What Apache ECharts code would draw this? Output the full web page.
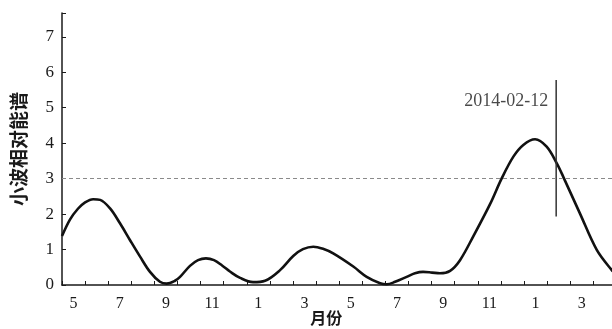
<!DOCTYPE html>
<html>
<head>
<meta charset="utf-8">
<script src="https://cdn.jsdelivr.net/npm/echarts@6/dist/echarts.min.js"></script>
<style>
  html, body { margin: 0; padding: 0; background: #fff; }
  #chart { width: 612px; height: 329px; }
</style>
</head>
<body>
<div id="chart"></div>
<script>
// Month labels along the time axis (May 2012 – Apr 2014), one band per month
const monthTicks = [5, 6, 7, 8, 9, 10, 11, 12, 1, 2, 3, 4, 5, 6, 7, 8, 9, 10, 11, 12, 1, 2, 3, 4];
const startYear = 2012;
const startMonth = 5;

// Relative wavelet energy spectrum: time in months since start of May 2012
const spectrumT = [0.0, 0.35, 0.69, 1.00, 1.35, 1.65, 2.08, 2.51, 2.94, 3.38, 3.81, 4.24, 4.53, 4.89, 5.11, 5.54, 5.89, 6.23, 6.58, 6.93, 7.27, 7.71, 8.27, 8.79, 9.44, 10.01, 10.43, 10.88, 11.30, 11.74, 12.61, 13.19, 13.77, 14.06, 14.42, 14.92, 15.28, 15.63, 16.02, 16.36, 16.80, 17.23, 17.81, 18.53, 19.03, 19.54, 19.97, 20.48, 20.98, 21.42, 21.70, 22.42, 23.15, 23.80, 24.0];
const spectrumV = [1.38, 1.85, 2.15, 2.33, 2.42, 2.40, 2.16, 1.74, 1.27, 0.80, 0.37, 0.09, 0.04, 0.12, 0.23, 0.54, 0.70, 0.75, 0.70, 0.55, 0.38, 0.20, 0.08, 0.12, 0.42, 0.82, 1.01, 1.08, 1.02, 0.89, 0.52, 0.23, 0.05, 0.02, 0.09, 0.23, 0.33, 0.37, 0.35, 0.33, 0.40, 0.70, 1.38, 2.28, 3.00, 3.62, 3.95, 4.11, 3.90, 3.43, 3.05, 2.02, 0.99, 0.42, 0.30];

// Significance threshold and the marked event
const thresholdValue = 3;
const eventDate = '2014-02-12';
const eventLineRange = [1.93, 5.78];
const eventLabelValue = 5.17;

function toMonthIndex(dateStr) {
  const [y, m, d] = dateStr.split('-').map(Number);
  const daysInMonth = new Date(y, m, 0).getDate();
  return (y - startYear) * 12 + (m - startMonth) + (d - 1) / daysInMonth;
}

const eventT = toMonthIndex(eventDate);
const spectrumData = spectrumT.map((t, i) => [t, spectrumV[i]]);

const serif = 'Liberation Serif';
const cjk = 'Noto Sans CJK SC';
const ink = '#1a1a1a';

const chart = echarts.init(document.getElementById('chart'), null, { renderer: 'canvas' });
chart.setOption({
  backgroundColor: '#ffffff',
  animation: false,
  grid: { left: 62, top: 13, width: 554.4, bottom: 44, containLabel: false, outerBoundsMode: 'none' },
  xAxis: [
    {
      type: 'category',
      data: monthTicks.map(String),
      boundaryGap: true,
      name: '月份',
      nameLocation: 'middle',
      nameGap: 25,
      nameMoveOverlap: false,
      nameTextStyle: { fontFamily: cjk, fontSize: 16, fontWeight: 'bold', color: ink, padding: [0, 26, 0, 0] },
      axisLine: { show: true, lineStyle: { color: ink, width: 1.5 } },
      axisTick: { show: true, inside: true, length: 4, interval: 0, lineStyle: { color: ink, width: 1 } },
      axisLabel: { interval: 1, margin: 11, fontFamily: serif, fontSize: 16, color: ink },
      splitLine: { show: false }
    },
    {
      type: 'value',
      min: 0,
      max: 24,
      show: false
    }
  ],
  yAxis: {
    type: 'value',
    min: 0,
    max: 7.67,
    interval: 1,
    name: '小波相对能谱',
    nameLocation: 'middle',
    nameGap: 34,
    nameRotate: 90,
    nameMoveOverlap: false,
    nameTextStyle: { fontFamily: cjk, fontSize: 19, fontWeight: 'bold', color: ink },
    axisLine: { show: true, lineStyle: { color: ink, width: 1.5 } },
    axisTick: { show: true, inside: true, length: 4, lineStyle: { color: ink, width: 1 } },
    axisLabel: {
      margin: 8,
      fontFamily: serif,
      fontSize: 17,
      color: ink,
      formatter: v => (Number.isInteger(v) ? String(v) : '')
    },
    splitLine: { show: false }
  },
  series: [
    {
      type: 'line',
      xAxisIndex: 1,
      data: spectrumData,
      smooth: 0.35,
      showSymbol: false,
      symbol: 'none',
      lineStyle: { color: '#111', width: 2.6 },
      markLine: {
        silent: true,
        symbol: 'none',
        label: { show: false },
        lineStyle: { color: '#8a8a8a', width: 1.2, type: [4, 3] },
        data: [{ yAxis: thresholdValue }]
      },
      z: 3
    },
    {
      type: 'line',
      xAxisIndex: 1,
      data: eventLineRange.map(v => [eventT, v]),
      showSymbol: false,
      symbol: 'none',
      lineStyle: { color: '#333', width: 1.5 },
      z: 4
    },
    {
      type: 'scatter',
      xAxisIndex: 1,
      data: [[eventT, eventLabelValue]],
      symbolSize: 0,
      label: {
        show: true,
        position: 'left',
        distance: 8,
        formatter: eventDate,
        fontFamily: serif,
        fontSize: 18,
        color: ink
      },
      z: 5
    }
  ]
});
</script>
</body>
</html>
